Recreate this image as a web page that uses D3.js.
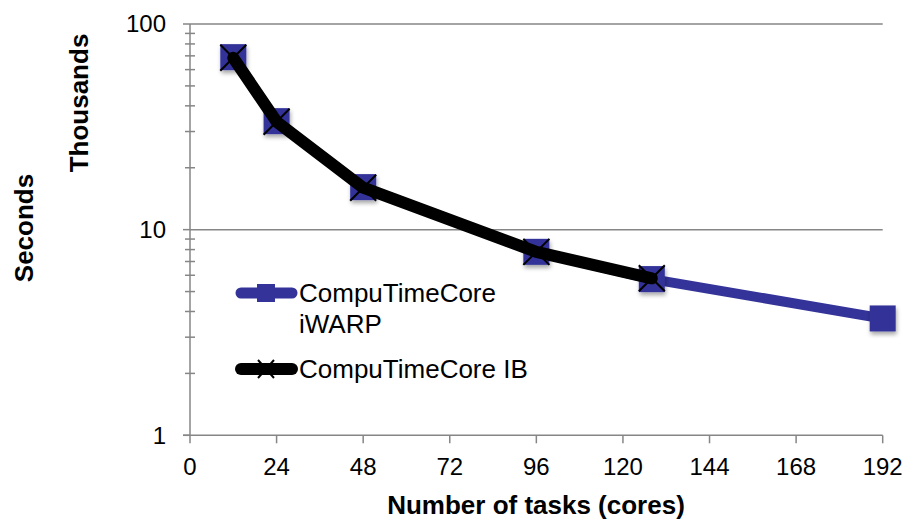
<!DOCTYPE html>
<html><head><meta charset="utf-8">
<script src="https://cdn.jsdelivr.net/npm/d3@7"></script>
<style>body{margin:0;background:#fff}svg{display:block}text{font-family:"Liberation Sans",Arial,sans-serif}</style>
</head><body><svg id="c" width="908" height="519"></svg>
<script>
const coresIWARP = [12, 24, 48, 96, 128, 192];
const iwarpValues = [69, 33.7, 16.1, 7.8, 5.75, 3.7];
const coresIB = [12, 24, 48, 96, 128];
const ibValues = [68.5, 33.5, 16.0, 7.8, 5.8];
const xTicks = [0, 24, 48, 72, 96, 120, 144, 168, 192];
const yTicks = [1, 10, 100];
const seriesNames = ["CompuTimeCore", "iWARP", "CompuTimeCore IB"];

const svg = d3.select("#c");
const x = d3.scaleLinear().domain([0, 192]).range([190, 882.7]);
const y = d3.scaleLog().domain([1, 100]).range([435.3, 24]);
const axisCol = "#868686", blue = "#333399";

const defs = svg.append("defs");
const f = defs.append("filter").attr("id","sh").attr("x","-50%").attr("y","-50%").attr("width","200%").attr("height","200%");
f.append("feDropShadow").attr("dx",1).attr("dy",3).attr("stdDeviation",2).attr("flood-color","#000").attr("flood-opacity",0.35);

// gridlines
svg.append("g").selectAll("line").data([10,100]).join("line")
  .attr("x1", x(0)).attr("x2", x(192)).attr("y1", d=>y(d)).attr("y2", d=>y(d))
  .attr("stroke", axisCol).attr("stroke-width", 1.5);

// y axis
const minor = [];
for (let dec of [1,10]) for (let k=2;k<=9;k++) minor.push(dec*k);
const yg = svg.append("g");
yg.append("line").attr("x1",x(0)).attr("x2",x(0)).attr("y1",y(1)).attr("y2",y(100)).attr("stroke",axisCol).attr("stroke-width",1.5);
yg.selectAll("line.mj").data(yTicks).join("line").attr("class","mj")
  .attr("x1",x(0)-7).attr("x2",x(0)).attr("y1",d=>y(d)).attr("y2",d=>y(d)).attr("stroke",axisCol).attr("stroke-width",1.5);
yg.selectAll("line.mn").data(minor).join("line").attr("class","mn")
  .attr("x1",x(0)-5).attr("x2",x(0)+5).attr("y1",d=>y(d)).attr("y2",d=>y(d)).attr("stroke",axisCol).attr("stroke-width",1.5);
yg.selectAll("text").data(yTicks).join("text")
  .attr("x",166).attr("y",d=>y(d)).attr("dy","0.35em").attr("text-anchor","end")
  .attr("font-size",24).attr("fill","#000").text(d=>d);

// x axis
const xg = svg.append("g");
xg.append("line").attr("x1",x(0)-7).attr("x2",x(192)).attr("y1",y(1)).attr("y2",y(1)).attr("stroke",axisCol).attr("stroke-width",1.5);
xg.selectAll("line.t").data(xTicks).join("line").attr("class","t")
  .attr("x1",d=>x(d)).attr("x2",d=>x(d)).attr("y1",y(1)).attr("y2",y(1)+8).attr("stroke",axisCol).attr("stroke-width",1.5);
xg.selectAll("text").data(xTicks).join("text")
  .attr("x",d=>x(d)).attr("y",475).attr("text-anchor","middle")
  .attr("font-size",24).attr("fill","#000").text(d=>d);

// titles
svg.append("text").attr("x",536).attr("y",514).attr("text-anchor","middle").attr("font-size",26).attr("font-weight","bold").text("Number of tasks (cores)");
svg.append("text").attr("transform","translate(88,103) rotate(-90)").attr("text-anchor","middle").attr("font-size",26).attr("font-weight","bold").text("Thousands");
svg.append("text").attr("transform","translate(33,228) rotate(-90)").attr("text-anchor","middle").attr("font-size",26).attr("font-weight","bold").text("Seconds");

// series
const ptsW = coresIWARP.map((c,i)=>[c, iwarpValues[i]]);
const ptsB = coresIB.map((c,i)=>[c, ibValues[i]]);
const line = d3.line().x(d=>x(d[0])).y(d=>y(d[1]));
const S = 26;

svg.append("path").attr("d", line(ptsW)).attr("fill","none").attr("stroke",blue).attr("stroke-width",10).attr("stroke-linejoin","round").attr("stroke-linecap","round");
svg.append("g").attr("filter","url(#sh)").selectAll("rect").data(ptsW).join("rect")
  .attr("x",d=>x(d[0])-S/2).attr("y",d=>y(d[1])-S/2).attr("width",S).attr("height",S).attr("fill",blue);

svg.append("path").attr("d", line(ptsB)).attr("fill","none").attr("stroke","#000").attr("stroke-width",12).attr("stroke-linejoin","round").attr("stroke-linecap","round");
const crossG = svg.append("g");
ptsB.forEach(d=>{
  const cx=x(d[0]), cy=y(d[1]), h=S/2;
  crossG.append("path").attr("d",`M${cx-h},${cy-h}L${cx+h},${cy+h}M${cx-h},${cy+h}L${cx+h},${cy-h}`)
    .attr("stroke","#000").attr("stroke-width",2).attr("fill","none");
});

// legend
const lg = svg.append("g");
lg.append("line").attr("x1",241).attr("x2",292).attr("y1",293).attr("y2",293).attr("stroke",blue).attr("stroke-width",11).attr("stroke-linecap","round");
lg.append("rect").attr("x",257).attr("y",284).attr("width",18).attr("height",18).attr("fill",blue);
lg.append("text").attr("x",299).attr("y",302).attr("font-size",26).text(seriesNames[0]);
lg.append("text").attr("x",299).attr("y",333).attr("font-size",26).text(seriesNames[1]);
lg.append("line").attr("x1",241).attr("x2",292).attr("y1",369).attr("y2",369).attr("stroke","#000").attr("stroke-width",12).attr("stroke-linecap","round");
lg.append("path").attr("d","M258,360L274,378M258,378L274,360").attr("stroke","#000").attr("stroke-width",2);
lg.append("text").attr("x",299).attr("y",378).attr("font-size",26).text(seriesNames[2]);
</script></body></html>
